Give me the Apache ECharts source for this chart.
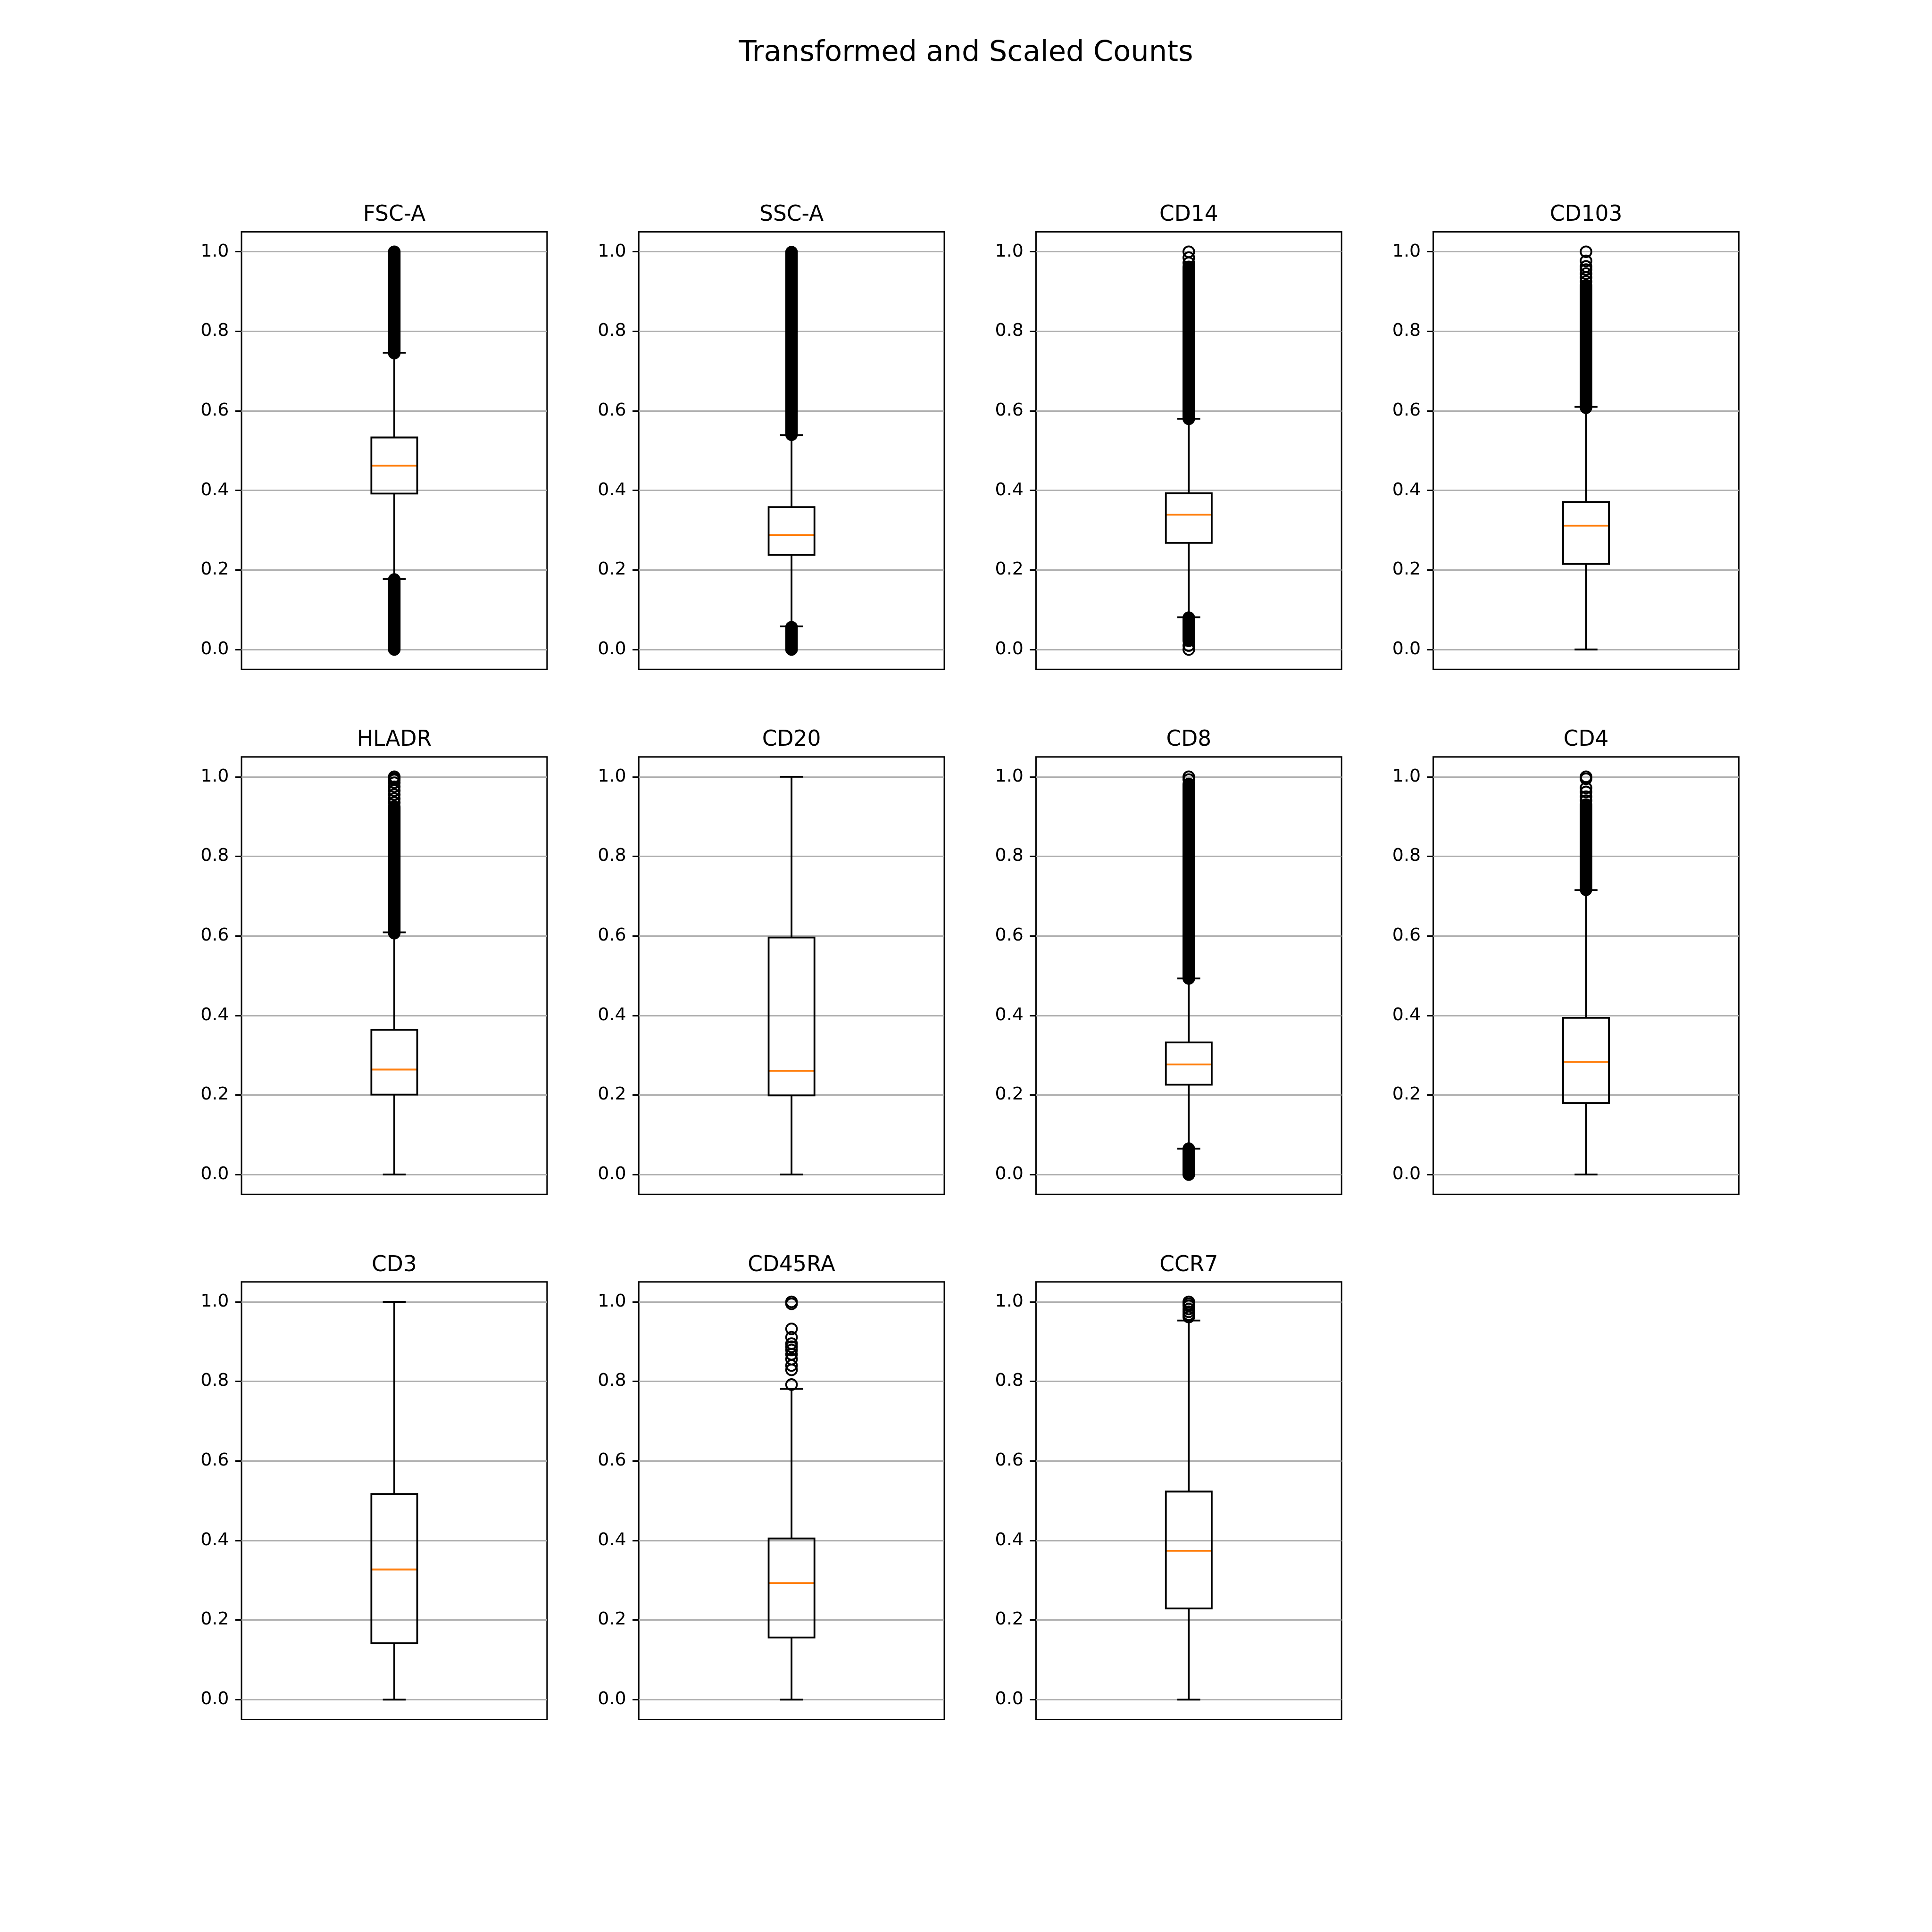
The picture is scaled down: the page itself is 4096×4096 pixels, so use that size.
<!DOCTYPE html>
<html><head><meta charset="utf-8">
<script src="https://cdn.jsdelivr.net/npm/echarts@6/dist/echarts.min.js"></script>
<style>html,body{margin:0;padding:0;background:#fff}#c{width:4096px;height:4096px}</style>
</head><body><div id="c"></div>
<script>
// ---------- data ----------
const chartTitle = 'Transformed and Scaled Counts';
const panelNames  = ['FSC-A','SSC-A','CD14','CD103','HLADR','CD20','CD8','CD4','CD3','CD45RA','CCR7'];
const whiskerLow  = [0.177, 0.058, 0.081, 0.000, 0.000, 0.000, 0.065, 0.000, 0.000, 0.000, 0.000];
const quartile1   = [0.392, 0.238, 0.268, 0.215, 0.201, 0.199, 0.226, 0.180, 0.142, 0.156, 0.229];
const medians     = [0.462, 0.288, 0.339, 0.311, 0.264, 0.261, 0.277, 0.283, 0.327, 0.293, 0.374];
const quartile3   = [0.533, 0.358, 0.393, 0.371, 0.364, 0.596, 0.332, 0.394, 0.517, 0.405, 0.523];
const whiskerHigh = [0.746, 0.539, 0.580, 0.610, 0.609, 1.000, 0.493, 0.715, 1.000, 0.781, 0.953];
// dense runs of outliers (solid columns of overlapping markers): [from, to]
const denseOutlierRuns = [
  [[0.745, 1.0], [0.0, 0.176]],
  [[0.540, 0.999], [0.0, 0.056]],
  [[0.580, 0.962], [0.022, 0.080]],
  [[0.608, 0.915]],
  [[0.607, 0.925]],
  [],
  [[0.493, 0.982], [0.0, 0.065]],
  [[0.716, 0.930]],
  [],
  [],
  []
];
// individually visible outliers
const sparseOutliers = [
  [],
  [],
  [0.972, 0.985, 1.0, 0.010, 0.0],
  [0.925, 0.935, 0.945, 0.955, 0.963, 0.977, 1.0],
  [0.935, 0.945, 0.955, 0.965, 0.975, 0.985, 0.992, 0.996, 1.0],
  [],
  [0.993, 1.0],
  [0.940, 0.950, 0.962, 0.972, 0.995, 1.0],
  [],
  [0.792, 0.829, 0.840, 0.856, 0.868, 0.879, 0.887, 0.895, 0.911, 0.932, 0.995, 1.0],
  [0.962, 0.968, 0.975, 0.982, 0.990, 0.995, 1.0]
];
const yTicks = [0, 0.2, 0.4, 0.6, 0.8, 1.0];

// ---------- layout / style ----------
const S = 4096 / 4500;
const PT = 300 / 72 * S;             // one point in output px
const FONT = 'DejaVu Sans';
const colLefts = [562.5, 1487.77, 2413.04, 3338.3].map(v => v * S);
const rowTops  = [540, 1762.94, 2985.88].map(v => v * S);
const gridW = 711.73 * S, gridH = 1019.12 * S;
const LW = 1.0 * PT, THIN = 0.8 * PT;
const MARKER = 6 * PT;
const BOX_HALF = 0.075, CAP_HALF = 0.0375;

function renderBox(params, api) {
  const x = api.value(0);
  const c = (dx, v) => api.coord([x + dx, v]);
  const wl = api.value(1), b = api.value(2), m = api.value(3), t = api.value(4), wh = api.value(5);
  const st = { stroke: '#000', lineWidth: LW, fill: 'none' };
  const ln = (p, q, style) => ({ type: 'line', shape: { x1: p[0], y1: p[1], x2: q[0], y2: q[1] }, style: style || st });
  const bl = c(-BOX_HALF, b), tr = c(BOX_HALF, t);
  return { type: 'group', children: [
    ln(c(0, b), c(0, wl)),
    ln(c(0, t), c(0, wh)),
    ln(c(-CAP_HALF, wl), c(CAP_HALF, wl)),
    ln(c(-CAP_HALF, wh), c(CAP_HALF, wh)),
    ln(c(-BOX_HALF, m), c(BOX_HALF, m), { stroke: '#ff7f0e', lineWidth: LW }),
    { type: 'rect', shape: { x: bl[0], y: tr[1], width: tr[0] - bl[0], height: bl[1] - tr[1] }, style: st }
  ]};
}
function renderRun(params, api) {
  const x = api.value(0);
  const top = api.coord([x, api.value(2)]), bot = api.coord([x, api.value(1)]);
  const R = (MARKER + LW) / 2;
  return { type: 'rect', shape: { x: top[0] - R, y: top[1] - R, width: 2 * R, height: bot[1] - top[1] + 2 * R, r: R },
           style: { fill: '#000' } };
}

const grids = [], xAxes = [], yAxes = [], series = [], graphics = [];
graphics.push({ type: 'text', x: 2048, y: 113, style: { text: chartTitle, font: `${16 * PT}px "${FONT}"`, fill: '#000',
  align: 'center', verticalAlign: 'middle', textAlign: 'center', textVerticalAlign: 'middle' } });

panelNames.forEach((name, i) => {
  const left = colLefts[i % 4], top = rowTops[Math.floor(i / 4)];
  grids.push({ left, top, width: gridW, height: gridH, show: true, borderColor: '#000', borderWidth: THIN,
               backgroundColor: 'transparent', containLabel: false });
  xAxes.push({ type: 'value', gridIndex: i, min: 0.5, max: 1.5, show: true,
               axisLine: { show: false }, axisTick: { show: false }, axisLabel: { show: false }, splitLine: { show: false } });
  yAxes.push({ type: 'value', gridIndex: i, min: -0.05, max: 1.05,
               axisLine: { show: false },
               axisTick: { show: true, inside: false, length: 3.5 * PT, customValues: yTicks, lineStyle: { color: '#000', width: THIN } },
               axisLabel: { show: true, customValues: yTicks, margin: 7 * PT, color: '#000', fontFamily: FONT, fontSize: 10 * PT,
                            formatter: v => Number(v).toFixed(1) },
               splitLine: { show: true, lineStyle: { color: '#b0b0b0', width: THIN } } });
  series.push({ type: 'custom', xAxisIndex: i, yAxisIndex: i, z: 3, silent: true,
                data: [[1, whiskerLow[i], quartile1[i], medians[i], quartile3[i], whiskerHigh[i]]],
                encode: { x: 0, y: [1, 2, 3, 4, 5] }, renderItem: renderBox });
  if (denseOutlierRuns[i].length)
    series.push({ type: 'custom', xAxisIndex: i, yAxisIndex: i, z: 4, silent: true,
                  data: denseOutlierRuns[i].map(r => [1, r[0], r[1]]),
                  encode: { x: 0, y: [1, 2] }, renderItem: renderRun });
  if (sparseOutliers[i].length)
    series.push({ type: 'scatter', xAxisIndex: i, yAxisIndex: i, z: 5, silent: true,
                  data: sparseOutliers[i].map(v => [1, v]), symbol: 'circle', symbolSize: MARKER,
                  itemStyle: { color: 'none', borderColor: '#000', borderWidth: LW, opacity: 1 } });
  graphics.push({ type: 'text', x: left + gridW / 2, y: top - 35, style: { text: name, font: `${12 * PT}px "${FONT}"`, fill: '#000',
    align: 'center', verticalAlign: 'middle', textAlign: 'center', textVerticalAlign: 'middle' } });
});

const chart = echarts.init(document.getElementById('c'), null, { renderer: 'canvas', width: 4096, height: 4096 });
chart.setOption({
  backgroundColor: '#fff', animation: false,
  grid: grids, xAxis: xAxes, yAxis: yAxes, series, graphic: { elements: graphics }
});
</script></body></html>
